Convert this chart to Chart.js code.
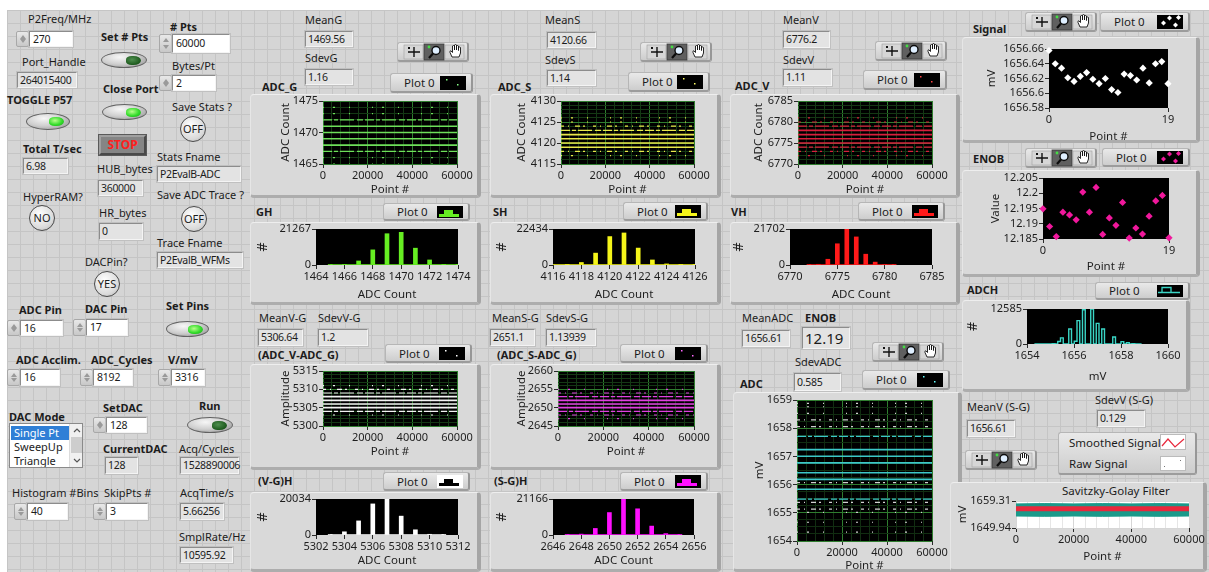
<!DOCTYPE html>
<html><head><meta charset="utf-8"><title>P2 ADC Evaluation Panel</title>
<script src="https://cdn.jsdelivr.net/npm/chart.js@4.4.1/dist/chart.umd.min.js"></script>
<style>
html,body{margin:0;padding:0;background:#fff;}
body{width:1209px;height:572px;overflow:hidden;position:relative;font-family:"Noto Sans","Open Sans",sans-serif;font-size:11px;color:#1c1c1c;}
#panel{position:absolute;left:7px;top:10px;width:1202px;height:562px;background-color:#d5d5d5;
 background-image:linear-gradient(to bottom,#c5c5c5 1px,transparent 1px),linear-gradient(to right,#c5c5c5 1px,transparent 1px);
 background-size:13px 13px;}
.a{position:absolute;box-sizing:border-box;}
.t{position:absolute;white-space:nowrap;line-height:14px;}
.bd{font-weight:700;}
.ind{background:#e3e3e3;border:1px solid;border-color:#8c8c8c #f4f4f4 #f4f4f4 #8c8c8c;box-shadow:0 0 0 1px #c0c0c0;padding-left:2px;white-space:nowrap;font-size:10.5px;letter-spacing:-0.3px;}
.ctl{background:#fff;border:1px solid;border-color:#8c8c8c #f4f4f4 #f4f4f4 #8c8c8c;box-shadow:0 0 0 1px #c0c0c0;padding-left:3px;white-space:nowrap;font-size:10.5px;letter-spacing:-0.2px;}
.spin{background:linear-gradient(#e8e8e8,#c8c8c8);border:1px solid #a8a8a8;border-radius:2px;}
.spin i{position:absolute;left:3px;width:0;height:0;border-left:3px solid transparent;border-right:3px solid transparent;}
.spin i.up{top:3px;border-bottom:4px solid #9a9a9a;}
.spin i.dn{bottom:3px;border-top:4px solid #9a9a9a;}
.led{border-radius:50%;background:radial-gradient(ellipse at 40% 30%,#f6f6f6 0%,#cfcfcf 50%,#8a8a8a 100%);border:1px solid #626262;}
.lamp{position:absolute;right:5px;top:50%;width:15px;height:9px;margin-top:-4.5px;border-radius:45% 60% 60% 45%;}
.on{background:radial-gradient(ellipse at 40% 40%,#b8ff8c,#32dc2a 55%,#1b9a1b);}
.off{background:radial-gradient(ellipse at 40% 40%,#4f8f4f,#1f5c1f 65%,#113a11);}
.rnd{border-radius:50%;border:1.5px solid #4a4a4a;background:radial-gradient(circle at 40% 35%,#ffffff,#dadada 65%,#a9a9a9);text-align:center;font-size:11px;}
.stop{background:#858585;border:2px solid;border-color:#a0a0a0 #4a4a4a #4a4a4a #a0a0a0;outline:1px solid #5a5a5a;color:#ff1e1e;font-weight:700;font-size:12px;text-align:center;line-height:16px;}
.frame{background:#d9d9d9;border-radius:4px;border:1px solid #c2c2c2;border-top-color:#eeeeee;border-left-color:#e6e6e6;border-right:4px solid #a5a5a5;border-bottom:3px solid #adadad;}
.leg{background:linear-gradient(#e9e9e9,#cdcdcd);border-radius:3px;border:1px solid #b6b6b6;border-right:2px solid #979797;border-bottom:2px solid #9c9c9c;}
.pal{background:linear-gradient(#e9e9e9,#cdcdcd);border-radius:3px;border:1px solid #b6b6b6;border-right:2px solid #979797;border-bottom:2px solid #9c9c9c;}
.lst{background:#fff;border:1px solid #8a8a8a;overflow:hidden;}
.lst div.r{position:absolute;left:1px;height:14px;line-height:14px;padding-left:3px;width:57px;white-space:nowrap;}
.lst div.sel{background:#2f7fd6;color:#fff;}
canvas{position:absolute;}
</style></head>
<body>
<div id="panel"></div>
<script>
// ---------------- values shown on the panel ----------------
const ptsSpan = [0, 60000];

// ADC_G histogram (GH) and samples
const ghBins   = [1465, 1466, 1467, 1468, 1469, 1470, 1471, 1472, 1473, 1474];
const ghCounts = [190, 60, 2385, 8940, 18480, 19300, 9940, 2980, 60, 15];
const ghXTicks = [1464, 1466, 1468, 1470, 1472, 1474];
const ghYTicks = [0, 21267];

// ADC_S histogram (SH)
const shBins   = [4116, 4117, 4118, 4119, 4120, 4121, 4122, 4123, 4124, 4125, 4126];
const shCounts = [0, 40, 1570, 7400, 17720, 19970, 10540, 3140, 670, 60, 12];
const shXTicks = [4116, 4118, 4120, 4122, 4124, 4126];
const shYTicks = [0, 22434];

// ADC_V histogram (VH)
const vhBins   = [6772, 6773, 6774, 6775, 6776, 6777, 6778, 6779, 6780, 6781];
const vhCounts = [110, 430, 3470, 12800, 21702, 16930, 6510, 1740, 330, 110];
const vhXTicks = [6770, 6775, 6780, 6785];
const vhYTicks = [0, 21702];

// V-G difference histogram
const vghBins   = [5303, 5304, 5305, 5306, 5307, 5308, 5309, 5310, 5311];
const vghCounts = [200, 1780, 7840, 17300, 20034, 10500, 2890, 400, 60];
const vghXTicks = [5302, 5304, 5306, 5308, 5310, 5312];
const vghYTicks = [0, 20034];

// S-G difference histogram
const sghBins   = [2647, 2648, 2649, 2650, 2651, 2652, 2653, 2654, 2655];
const sghCounts = [30, 520, 3850, 13200, 21166, 15400, 5240, 820, 60];
const sghXTicks = [2646, 2648, 2650, 2652, 2654, 2656];
const sghYTicks = [0, 21166];

// ADC result histogram (ADCH), 40 bins in mV
const adchBins = [1654.314, 1654.431, 1654.548, 1654.665, 1654.782, 1654.899, 1655.016, 1655.133, 1655.250, 1655.367,
                  1655.484, 1655.601, 1655.718, 1655.835, 1655.952, 1656.069, 1656.186, 1656.303, 1656.420, 1656.537,
                  1656.654, 1656.771, 1656.888, 1657.005, 1657.122, 1657.239, 1657.356, 1657.473, 1657.590, 1657.707,
                  1657.824, 1657.941, 1658.058, 1658.175, 1658.292, 1658.409, 1658.526, 1658.643, 1658.760, 1658.877];
const adchCounts = [20, 0, 0, 30, 0, 0, 60, 150, 0, 900,
                    2200, 0, 0, 5400, 0, 1000, 8400, 0, 12300, 0,
                    0, 12585, 0, 7400, 0, 5400, 0, 0, 0, 2500,
                    0, 0, 850, 0, 450, 0, 80, 0, 30, 20];
const adchXTicks = [1654, 1656, 1658, 1660];
const adchYTicks = [0, 12585];

// last 20 signal means (mV) and ENOB values
const signalMv = [1656.658, 1656.640, 1656.634, 1656.621, 1656.616, 1656.623, 1656.628, 1656.619, 1656.613, 1656.620,
                  1656.605, 1656.601, 1656.626, 1656.624, 1656.618, 1656.634, 1656.614, 1656.640, 1656.643, 1656.613];
const signalYTicks = [1656.58, 1656.6, 1656.62, 1656.64, 1656.66];
const enobVals = [12.1949, 12.1891, 12.1858, 12.1938, 12.1929, 12.1913, 12.2004, 12.1938, 12.2019, 12.1865,
                  12.1919, 12.1895, 12.1970, 12.1853, 12.1886, 12.1866, 12.1925, 12.1975, 12.1993, 12.1854];
const enobYTicks = [12.185, 12.19, 12.195, 12.2, 12.205];
const indexTicks = [0, 19];

// Savitzky-Golay view: raw envelope and smoothed trace
const sgX      = [0, 10000, 20000, 30000, 40000, 50000, 60000];
const sgRawHi  = [1658.3, 1658.4, 1658.3, 1658.4, 1658.3, 1658.4, 1658.3];
const sgRawLo  = [1654.1, 1654.0, 1654.1, 1654.0, 1654.1, 1654.0, 1654.1];
const sgSmooth = [1656.61, 1656.60, 1656.62, 1656.61, 1656.60, 1656.62, 1656.61];
const sgYTicks = [1649.94, 1654.625, 1659.31];
const sgYLabels = [1649.94, 1659.31];

const pointXLabels = [0, 20000, 40000, 60000];

// ---------------- helpers ----------------
const range = (a, b, s) => { const r = []; for (let v = a; v <= b + 1e-9; v += s) r.push(Math.round(v * 1000) / 1000); return r; };
const fmt = v => String(Math.round(v * 1000) / 1000);

function mk(cls, x, y, w, h, html, css) {
  const d = document.createElement('div');
  d.className = cls;
  d.style.left = x + 'px'; d.style.top = y + 'px';
  if (w != null) d.style.width = w + 'px';
  if (h != null) d.style.height = h + 'px';
  if (css) d.style.cssText += css;
  if (html != null) d.innerHTML = html;
  document.body.appendChild(d);
  return d;
}
function txt(x, capTop, s, bold, css) { return mk('t' + (bold ? ' bd' : ''), x, capTop - 3, null, null, s, css); }
function ind(x, y, w, h, v, css) { return mk('a ind', x, y, w, h, v, 'line-height:' + (h - 2) + 'px;' + (css || '')); }
function ctl(x, y, w, h, v) {
  mk('a spin', x, y, 13, h, '<i class="up"></i><i class="dn"></i>');
  return mk('a ctl', x + 13, y, w - 13, h, v, 'line-height:' + (h - 2) + 'px;');
}
function led(x, y, w, h, lit) { return mk('a led', x, y, w, h, '<div class="lamp ' + (lit ? 'on' : 'off') + '"></div>'); }
function rnd(cx, cy, s) { const d = 26; return mk('a rnd', cx - d / 2, cy - d / 2, d, d, s, 'line-height:' + (d - 3) + 'px;'); }
function frame(x, y, w, h) { return mk('a frame', x, y, w, h); }
function leg(x, y, w, h, sw, swBg) {
  return mk('a leg', x, y, w, h,
    '<span class="t" style="left:13px;top:' + ((h - 16) / 2) + 'px;font-size:11.5px">Plot 0</span>' +
    '<div class="a" style="right:5px;top:2px;width:26px;height:' + (h - 6) + 'px;background:' + (swBg || '#000') + '">' + sw + '</div>');
}
function pal(x, y) {
  const svg = '<svg width="70" height="18" style="position:absolute;left:1px;top:0">' +
    '<rect x="5" y="2" width="19" height="14" fill="#d6d6d6" stroke="#a0a0a0" stroke-width="0.6"/>' +
    '<path d="M15 4v10M9 9h12" stroke="#111" stroke-width="1.4"/><rect x="9" y="4" width="2" height="2" fill="#111"/>' +
    '<rect x="25" y="1" width="20" height="16" fill="#606060" stroke="#3a3a3a" stroke-width="0.8"/>' +
    '<circle cx="37" cy="7.5" r="4" fill="#dfefff" stroke="#0c0c0c" stroke-width="1.4"/>' +
    '<path d="M34 10.5l-4 4.5" stroke="#0c0c0c" stroke-width="2.2"/><circle cx="30" cy="4" r="1.4" fill="#44dd44"/>' +
    '<rect x="46" y="2" width="19" height="14" fill="#d6d6d6" stroke="#a0a0a0" stroke-width="0.6"/>' +
    '<path d="M51 9.5l2 4.5h7l1.5-4v-5.5q-1-1-2 0v3v-4.5q-1-1-2 0v4v-5q-1-1-2 0v5v-4q-1-1-2 0v6.5l-1.5-1.5q-1-0.6-1 0.5z" fill="#fff" stroke="#111" stroke-width="0.9"/>' +
    '</svg>';
  return mk('a pal', x, y, 72, 20, svg);
}
const swDots = c => '<svg width="24" height="12"><rect x="6" y="3" width="1.5" height="1.5" fill="' + c + '"/><rect x="17" y="8" width="1.5" height="1.5" fill="' + c + '"/></svg>';
const swStep = c => '<svg width="24" height="13"><path d="M2 11V8h5V4h9v4h6v3z" fill="' + c + '"/></svg>';
const swDiam = c => '<svg width="24" height="13"><g fill="' + c + '"><path d="M4 8l2.5-2.5L9 8l-2.5 2.5z"/><path d="M10 3l2.5-2.5L15 3l-2.5 2.5z"/><path d="M16 10l2.5-2.5L21 10l-2.5 2.5z"/><path d="M19 2.5l2.5-2.5L24 2.5l-2.5 2.5z"/></g></svg>';
const swStepLine = c => '<svg width="24" height="13"><path d="M1 7.5h4V2.5h9v5h9M5 7.5h9" fill="none" stroke="' + c + '" stroke-width="1.3"/></svg>';

// ---------------- panel controls ----------------
txt(28, 15, 'P2Freq/MHz');           ctl(16, 31, 57, 16, '270');
txt(22, 58, 'Port_Handle');          ind(17, 72, 60, 16, '264015400');
txt(7, 96, 'TOGGLE P57', true);      led(26, 113, 44, 17, true);
txt(23, 145, 'Total T/sec', true);   ind(23, 158, 45, 16, '6.98');
txt(23, 193, 'HyperRAM?');           rnd(42, 218, 'NO');
txt(101, 33, 'Set # Pts', true);     led(101, 52, 46, 16, false);
txt(103, 85, 'Close Port', true);    led(102, 104, 45, 16, true);
mk('a stop', 99, 135, 47, 20, 'STOP');
txt(97, 165, 'HUB_bytes');           ind(98, 180, 45, 16, '360000');
txt(99, 209, 'HR_bytes');            ind(99, 223, 44, 17, '0');
txt(85, 258, 'DACPin?');             rnd(107, 284, 'YES');
txt(170, 23, '# Pts', true);         ctl(159, 34, 71, 19, '60000');
txt(172, 62, 'Bytes/Pt');            ctl(159, 75, 57, 16, '2');
txt(172, 103, 'Save Stats ?');       rnd(193, 129, 'OFF');
txt(157, 153, 'Stats Fname');        ind(157, 166, 84, 16, 'P2EvalB-ADC');
txt(157, 191, 'Save ADC Trace ?');   rnd(194, 219, 'OFF');
txt(157, 239, 'Trace Fname');        ind(157, 252, 86, 16, 'P2EvalB_WFMs');

txt(19, 306, 'ADC Pin', true);       ctl(7, 320, 56, 16, '16');
txt(85, 305, 'DAC Pin', true);       ctl(73, 319, 55, 17, '17');
txt(166, 302, 'Set Pins', true);     led(166, 321, 43, 16, true);
txt(16, 356, 'ADC Acclim.', true);   ctl(7, 369, 53, 17, '16');
txt(91, 356, 'ADC_Cycles', true);    ctl(80, 369, 53, 17, '8192');
txt(168, 356, 'V/mV', true);         ctl(158, 369, 47, 17, '3316');
txt(9, 413, 'DAC Mode', true);
mk('a lst', 9, 423, 74, 45,
  '<div class="r sel" style="top:2px">Single Pt</div><div class="r" style="top:16px">SweepUp</div><div class="r" style="top:30px">Triangle</div>' +
  '<div class="a" style="left:59px;top:0;width:14px;height:43px;background:#f0f0f0;border-left:1px solid #dcdcdc">' +
  '<svg width="14" height="43"><path d="M4 8l3-3 3 3" fill="none" stroke="#555" stroke-width="1.2"/><rect x="1" y="13" width="11" height="16" fill="#cdcdcd"/><path d="M4 35l3 3 3-3" fill="none" stroke="#555" stroke-width="1.2"/></svg></div>');
txt(103, 404, 'SetDAC', true);       ctl(93, 417, 54, 16, '128');
txt(199, 402, 'Run', true);          led(187, 417, 46, 16, false);
txt(103, 445, 'CurrentDAC', true);   ind(105, 457, 33, 17, '128');
txt(179, 445, 'Acq/Cycles');         ind(180, 457, 59, 17, '1528890006');
txt(12, 489, 'Histogram #Bins');     ctl(14, 503, 54, 17, '40');
txt(104, 489, 'SkipPts #');          ctl(93, 503, 55, 17, '3');
txt(180, 489, 'AcqTime/s');          ind(180, 503, 44, 17, '5.66256');
txt(179, 533, 'SmplRate/Hz');        ind(180, 547, 53, 16, '10595.92');

// top statistics
txt(305, 16, 'MeanG');  ind(305, 31, 48, 16, '1469.56');
txt(305, 54, 'SdevG');  ind(305, 69, 48, 16, '1.16');
txt(545, 16, 'MeanS');  ind(547, 32, 49, 16, '4120.66');
txt(545, 56, 'SdevS');  ind(547, 70, 49, 16, '1.14');
txt(783, 16, 'MeanV');  ind(783, 31, 47, 17, '6776.2');
txt(783, 56, 'SdevV');  ind(783, 69, 49, 17, '1.11');
pal(397, 42); pal(640, 42); pal(875, 41);
leg(390, 73, 83, 20, swDots('#8f8'));  txt(262, 83, 'ADC_G', true);
leg(628, 72, 82, 20, swDots('#ff6'));  txt(498, 83, 'ADC_S', true);
leg(863, 70, 84, 20, swDots('#f44'));  txt(735, 82, 'ADC_V', true);
txt(256, 208, 'GH', true);  leg(383, 203, 87, 18, swStep('#66ee22'));
txt(493, 208, 'SH', true);  leg(623, 202, 85, 19, swStep('#f4f41a'));
txt(731, 208, 'VH', true);  leg(858, 202, 87, 19, swStep('#ff1a1a'));

// difference statistics
txt(259, 314, 'MeanV-G');  ind(258, 329, 45, 17, '5306.64');
txt(318, 314, 'SdevV-G');  ind(318, 329, 50, 17, '1.2');
txt(258, 351, '(ADC_V-ADC_G)', true);  leg(385, 344, 87, 19, swDots('#fff'));
txt(258, 477, '(V-G)H', true);         leg(383, 472, 87, 19, swStep('#000000'), '#ffffff');
txt(492, 314, 'MeanS-G');  ind(490, 329, 45, 17, '2651.1');
txt(546, 314, 'SdevS-G');  ind(546, 329, 50, 17, '1.13939');
txt(497, 351, '(ADC_S-ADC_G)', true);  leg(620, 344, 88, 19, swDots('#f6f'));
txt(494, 477, '(S-G)H', true);         leg(620, 472, 88, 19, swStep('#ff10ff'));
txt(742, 314, 'MeanADC');  ind(742, 330, 48, 17, '1656.61');
txt(805, 314, 'ENOB', true); ind(802, 327, 48, 22, '12.19', 'font-size:15px;letter-spacing:0;');
txt(795, 358, 'SdevADC');  ind(794, 373, 47, 18, '0.585');
pal(872, 342);
leg(862, 370, 88, 20, swDots('#6ff'));
txt(740, 380, 'ADC', true);

// right column
txt(973, 25, 'Signal', true);  pal(1025, 12);  leg(1100, 12, 90, 20, swDiam('#ffffff'));
txt(973, 155, 'ENOB', true);   pal(1025, 148); leg(1102, 148, 88, 19, swDiam('#f0189c'));
txt(967, 286, 'ADCH', true);   leg(1095, 282, 95, 18, swStepLine('#3ad6c6'));
txt(967, 403, 'MeanV (S-G)');  ind(967, 420, 48, 17, '1656.61');
txt(1095, 396, 'SdevV (S-G)'); ind(1097, 410, 48, 17, '0.129');
mk('a leg', 1058, 432, 139, 43,
  '<span class="t" style="left:10px;top:3px;font-size:11.5px">Smoothed Signal</span>' +
  '<span class="t" style="left:10px;top:24px;font-size:11.5px">Raw Signal</span>' +
  '<div class="a" style="left:101px;top:1px;width:26px;height:16px;background:#fff;border:1px solid #bbb"><svg width="24" height="14"><path d="M1 11l6-7 7 8 9-8" fill="none" stroke="#e8283c" stroke-width="1.2"/></svg></div>' +
  '<div class="a" style="left:101px;top:23px;width:26px;height:15px;background:#fff;border:1px solid #bbb"><svg width="24" height="13"><rect x="3" y="9" width="1" height="1" fill="#777"/><rect x="19" y="3" width="1" height="1" fill="#777"/></svg></div>');
pal(965, 450);

// graph frames
[[250, 94, 231, 104], [490, 94, 231, 104], [730, 94, 230, 104],
 [250, 222, 231, 83], [490, 222, 231, 83], [730, 222, 230, 83],
 [250, 364, 231, 106], [490, 364, 231, 106], [250, 492, 231, 80], [490, 492, 231, 80],
 [733, 392, 229, 180], [962, 37, 238, 106], [962, 170, 238, 107], [962, 300, 228, 92], [950, 482, 257, 90]
].forEach(r => frame(r[0], r[1], r[2], r[3]));
txt(1062, 487, 'Savitzky-Golay Filter', false, 'font-size:11.5px;');

// ---------------- charts ----------------
Chart.defaults.font.family = '"Noto Sans","Open Sans",sans-serif';
Chart.defaults.font.size = 11;
Chart.defaults.color = '#1e1e1e';
Chart.register({
  id: 'plotBg',
  beforeDraw(c, a, o) {
    const ca = c.chartArea; if (!ca) return;
    const g = c.ctx; g.save(); g.fillStyle = o.color || '#000';
    g.fillRect(ca.left, ca.top, ca.right - ca.left, ca.bottom - ca.top); g.restore();
  }
});

function axisCfg(ax, isX, rect, plot, gridCols) {
  const [x, y, w, h] = rect, [l, t, r, b] = plot;
  const lab = new Set(ax.labels);
  const isLab = c => c.tick && lab.has(c.tick.value);
  const tSize = ax.title === '#' ? 14 : 11.5;
  const cfg = {
    type: 'linear', min: ax.min, max: ax.max, offset: false,
    afterBuildTicks: s => { s.ticks = ax.ticks.map(v => ({ value: v })); },
    ticks: { autoSkip: false, maxRotation: 0, minRotation: 0, padding: 1, color: '#1e1e1e',
             font: { size: 11 }, callback: v => lab.has(v) ? fmt(v) : '' },
    grid: { offset: false, drawOnChartArea: !!gridCols, tickLength: 4, lineWidth: 1,
            color: c => gridCols ? (isLab(c) ? gridCols[0] : gridCols[1]) : 'transparent',
            tickColor: c => isLab(c) ? '#2a2a2a' : 'transparent' },
    border: { display: false },
    title: { display: !!ax.title, text: ax.title, color: '#1e1e1e', font: { size: tSize } }
  };
  const half = tSize * 0.6;
  if (isX) {
    cfg.afterFit = s => { s.height = (y + h) - b; };
    cfg.title.padding = { top: 0, bottom: (y + h) - ax.titlePos - half };
  } else {
    cfg.afterFit = s => { s.width = l - x; };
    cfg.title.padding = { top: ax.titlePos - x - half, bottom: 0 };
  }
  return cfg;
}

function graph(o) {
  const [x, y, w, h] = o.rect, [l, t, r, b] = o.plot;
  const cv = document.createElement('canvas');
  cv.width = w; cv.height = h;
  cv.style.left = x + 'px'; cv.style.top = y + 'px';
  cv.style.width = w + 'px'; cv.style.height = h + 'px';
  document.body.appendChild(cv);
  return new Chart(cv, {
    type: o.type || 'scatter',
    data: { datasets: o.datasets },
    options: {
      responsive: false, animation: false, devicePixelRatio: 1,
      layout: { padding: { left: 0, top: t - y, right: (x + w) - r, bottom: 0 } },
      plugins: { legend: { display: false }, tooltip: { enabled: false }, plotBg: { color: o.bg || '#000' } },
      scales: {
        x: axisCfg(o.x, true, o.rect, o.plot, o.gridX),
        y: axisCfg(o.y, false, o.rect, o.plot, o.gridY)
      }
    }
  });
}

// one horizontal trace per quantisation level, dash density following its count
function levelLines(bins, counts, color, rareColor) {
  const peak = Math.max(...counts);
  const out = [];
  bins.forEach((v, i) => {
    const c = counts[i]; if (!c) return;
    const f = c / peak;
    out.push({
      data: ptsSpan.map(px => ({ x: px, y: v })), showLine: true, pointRadius: 0,
      borderColor: f > 0.1 ? color : (rareColor || color),
      borderWidth: f > 0.25 ? 1.6 : 1.2,
      borderDash: f > 0.25 ? [] : f > 0.08 ? [9, 2, 4, 2, 14, 3, 6, 2] : f > 0.01 ? [3, 4, 1, 6, 5, 3, 2, 8] : [1, 9, 2, 14, 1, 22]
    });
  });
  return out;
}
function histSets(bins, counts, color) {
  return [
    { type: 'bar', data: bins.map((v, i) => ({ x: v, y: counts[i] })), backgroundColor: color, barThickness: 4, borderWidth: 0, order: 0 },
    { type: 'line', data: bins.map(v => ({ x: v, y: 0 })), borderColor: color, borderWidth: 1.5, pointRadius: 0, order: 1 }
  ];
}
const G = ['#2f7d2f', '#143814'];
const pointAxis = { min: 0, max: 60000, ticks: range(0, 60000, 4000), labels: pointXLabels, title: 'Point #' };

// raw ADC sample graphs
graph({ rect: [250, 91, 231, 107], plot: [323, 101, 457, 164], gridX: G, gridY: G,
  x: { ...pointAxis, titlePos: 190 },
  y: { min: 1465, max: 1475, ticks: range(1465, 1475, 1), labels: [1465, 1470, 1475], title: 'ADC Count', titlePos: 286 },
  datasets: levelLines(ghBins, ghCounts, '#6ee05a') });
graph({ rect: [490, 91, 231, 107], plot: [561, 101, 694, 164], gridX: G, gridY: G,
  x: { ...pointAxis, titlePos: 190 },
  y: { min: 4115, max: 4130, ticks: range(4115, 4130, 1), labels: [4115, 4120, 4125, 4130], title: 'ADC Count', titlePos: 522 },
  datasets: levelLines(shBins, shCounts, '#e8e84a') });
graph({ rect: [730, 91, 230, 107], plot: [798, 101, 932, 164], gridX: G, gridY: G,
  x: { ...pointAxis, titlePos: 190 },
  y: { min: 6770, max: 6785, ticks: range(6770, 6785, 1), labels: [6770, 6775, 6780, 6785], title: 'ADC Count', titlePos: 759 },
  datasets: levelLines(vhBins, vhCounts, '#d8203c') });

// histograms
function histGraph(rect, plot, bins, counts, xt, yt, color, yTitleX, xTitleY) {
  return graph({ type: 'bar', rect, plot,
    x: { min: xt[0], max: xt[xt.length - 1], ticks: xt, labels: xt, title: 'ADC Count', titlePos: xTitleY },
    y: { min: 0, max: yt[1], ticks: yt, labels: yt, title: '#', titlePos: yTitleX },
    datasets: histSets(bins, counts, color) });
}
histGraph([250, 219, 231, 86], [316, 229, 458, 265], ghBins, ghCounts, ghXTicks, ghYTicks, '#66ee22', 263, 295);
histGraph([490, 219, 231, 86], [553, 229, 695, 265], shBins, shCounts, shXTicks, shYTicks, '#f4f41a', 502, 295);
histGraph([730, 219, 230, 86], [790, 229, 932, 265], vhBins, vhCounts, vhXTicks, vhYTicks, '#ff1a1a', 739, 295);
histGraph([250, 489, 231, 83], [316, 499, 458, 535], vghBins, vghCounts, vghXTicks, vghYTicks, '#ffffff', 263, 561);
histGraph([490, 489, 231, 83], [553, 499, 694, 535], sghBins, sghCounts, sghXTicks, sghYTicks, '#ff10ff', 502, 561);

// difference graphs
graph({ rect: [250, 361, 231, 109], plot: [323, 371, 457, 426], gridX: G, gridY: G,
  x: { ...pointAxis, titlePos: 452 },
  y: { min: 5300, max: 5315, ticks: range(5300, 5315, 1), labels: [5300, 5305, 5310, 5315], title: 'Amplitude', titlePos: 286 },
  datasets: levelLines(vghBins, vghCounts, '#f2f2f2') });
graph({ rect: [490, 361, 231, 109], plot: [558, 371, 694, 426], gridX: G, gridY: G,
  x: { ...pointAxis, titlePos: 452 },
  y: { min: 2645, max: 2660, ticks: range(2645, 2660, 1), labels: [2645, 2650, 2655, 2660], title: 'Amplitude', titlePos: 522 },
  datasets: levelLines(sghBins, sghCounts, '#e040e0') });

// ADC result in mV
graph({ rect: [733, 389, 229, 183], plot: [797, 400, 932, 541], gridX: ['#2f7d2f', '#112d11'], gridY: ['#2f7d2f', '#112d11'],
  x: { ...pointAxis, titlePos: 566 },
  y: { min: 1654, max: 1659, ticks: range(1654, 1659, 0.25), labels: [1654, 1655, 1656, 1657, 1658, 1659], title: 'mV', titlePos: 760 },
  datasets: levelLines(adchBins, adchCounts, '#3cc8c8', '#cfcfcf') });

// signal and ENOB history
graph({ rect: [962, 37, 238, 106], plot: [1049, 49, 1168, 108],
  x: { min: 0, max: 19, ticks: indexTicks, labels: indexTicks, title: 'Point #', titlePos: 137 },
  y: { min: 1656.58, max: 1656.66, ticks: signalYTicks, labels: signalYTicks, title: 'mV', titlePos: 992 },
  datasets: [{ data: signalMv.map((v, i) => ({ x: i, y: v })), pointStyle: 'rectRot', pointRadius: 3.6,
               backgroundColor: '#ffffff', borderWidth: 0, clip: false }] });
graph({ rect: [962, 168, 238, 109], plot: [1043, 178, 1169, 239],
  x: { min: 0, max: 19, ticks: indexTicks, labels: indexTicks, title: 'Point #', titlePos: 267 },
  y: { min: 12.185, max: 12.205, ticks: enobYTicks, labels: enobYTicks, title: 'Value', titlePos: 996 },
  datasets: [{ data: enobVals.map((v, i) => ({ x: i, y: v })), pointStyle: 'rectRot', pointRadius: 3.6,
               backgroundColor: '#f0189c', borderWidth: 0, clip: false }] });

// ADC histogram drawn as a stepped trace
graph({ rect: [962, 300, 228, 92], plot: [1027, 309, 1168, 344],
  x: { min: 1654, max: 1660, ticks: adchXTicks, labels: adchXTicks, title: 'mV', titlePos: 377 },
  y: { min: 0, max: 12585, ticks: adchYTicks, labels: adchYTicks, title: '#', titlePos: 973 },
  datasets: [{ data: adchBins.map((v, i) => ({ x: v, y: adchCounts[i] })), showLine: true, stepped: 'middle',
               pointRadius: 0, borderColor: '#3ad6c6', borderWidth: 1.4 }] });

// Savitzky-Golay filter view: smoothed trace on top of the raw band
graph({ rect: [950, 482, 257, 90], plot: [1016, 501, 1189, 528], bg: '#ffffff',
  gridX: ['#d6d6d6', '#e6e6e6'], gridY: ['#d6d6d6', '#e6e6e6'],
  x: { min: 0, max: 60000, ticks: range(0, 60000, 4000), labels: pointXLabels, title: 'Point #', titlePos: 557 },
  y: { min: 1649.94, max: 1659.31, ticks: sgYTicks, labels: sgYLabels, title: 'mV', titlePos: 963 },
  datasets: [
    { data: sgX.map((v, i) => ({ x: v, y: sgSmooth[i] })), showLine: true, pointRadius: 0, borderColor: '#e8283c', borderWidth: 5, order: 0 },
    { data: sgX.map((v, i) => ({ x: v, y: sgRawLo[i] })), showLine: true, pointRadius: 0, borderColor: '#17998a', borderWidth: 1, order: 2 },
    { data: sgX.map((v, i) => ({ x: v, y: sgRawHi[i] })), showLine: true, pointRadius: 0, borderColor: '#17998a', borderWidth: 1,
      fill: '-1', backgroundColor: '#1a9a8a', order: 1 }
  ] });
</script>
</body></html>
